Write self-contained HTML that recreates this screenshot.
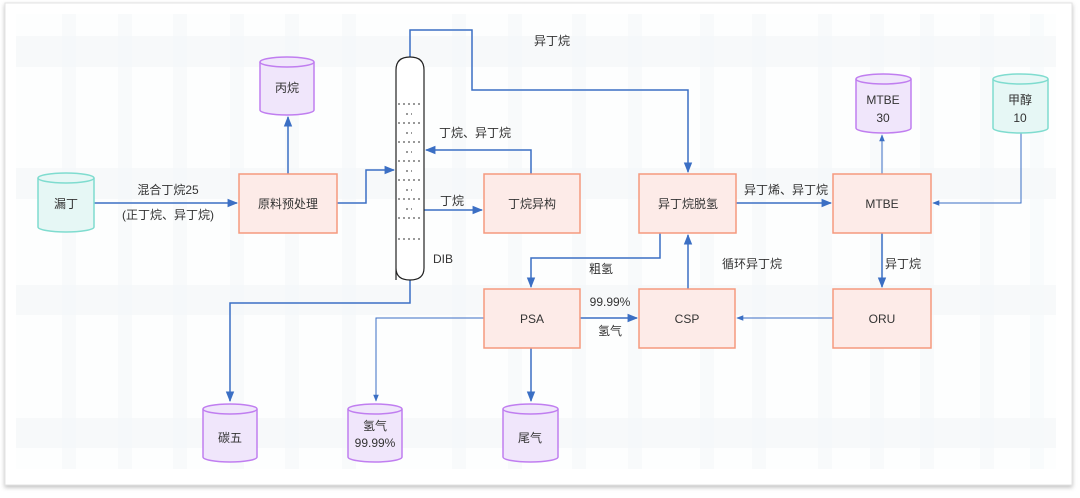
<!DOCTYPE html>
<html><head><meta charset="utf-8"><style>
body{margin:0;width:1080px;height:493px;background:#fff;overflow:hidden;font-family:"Liberation Sans","Noto Sans CJK SC",sans-serif}
</style></head><body>
<svg width="1080" height="493" viewBox="0 0 1080 493" xmlns="http://www.w3.org/2000/svg" font-family="Liberation Sans, Noto Sans CJK SC, sans-serif" font-size="12" fill="#333">
<defs>
<marker id="a" viewBox="0 0 10 10" refX="9" refY="5" markerWidth="7" markerHeight="7" orient="auto"><path d="M0,1 L10,5 L0,9 Z" fill="#3b6fc4"/></marker>
<filter id="sh" x="-5%" y="-5%" width="110%" height="115%"><feDropShadow dx="0" dy="2" stdDeviation="2" flood-color="#000" flood-opacity="0.25"/></filter>
</defs>
<rect x="5" y="3" width="1067" height="482" fill="#fff" stroke="#e3e3e3" filter="url(#sh)"/>
<g fill="#f7f9fa">
<rect x="16" y="14" width="1040" height="455" fill="#fdfefe"/>
<rect x="16" y="36" width="1040" height="31"/>
<rect x="16" y="168" width="1040" height="31"/>
<rect x="16" y="285" width="1040" height="30"/>
<rect x="16" y="418" width="1040" height="30"/>
</g>
<g fill="#f5f8fa" opacity="0.6">
<rect x="62" y="14" width="14" height="455"/><rect x="118" y="14" width="14" height="455"/><rect x="173" y="14" width="14" height="455"/><rect x="230" y="14" width="14" height="455"/><rect x="285" y="14" width="14" height="455"/><rect x="342" y="14" width="14" height="455"/><rect x="452" y="14" width="14" height="455"/><rect x="508" y="14" width="14" height="455"/><rect x="572" y="14" width="14" height="455"/><rect x="628" y="14" width="14" height="455"/><rect x="700" y="14" width="14" height="455"/><rect x="752" y="14" width="14" height="455"/><rect x="818" y="14" width="14" height="455"/><rect x="870" y="14" width="14" height="455"/><rect x="920" y="14" width="14" height="455"/><rect x="980" y="14" width="14" height="455"/><rect x="1030" y="14" width="14" height="455"/>
</g>

<g stroke="#3b6fc4" stroke-width="1.5" fill="none">
<path d="M94,203 H237" marker-end="url(#a)"/>
<path d="M288,174 V117" marker-end="url(#a)"/>
<path d="M337,203 H366 V170 H394" marker-end="url(#a)"/>
<path d="M410,57 V30 H472 V90 H688 V172" marker-end="url(#a)"/>
<path d="M531,174 V150 H426" marker-end="url(#a)"/>
<path d="M424,210 H482" marker-end="url(#a)"/>
<path d="M736,203 H831" marker-end="url(#a)"/>
<path d="M1021,133 V203 H933" marker-end="url(#a)" stroke-width="1"/>
<path d="M882,174 V135" marker-end="url(#a)" stroke-width="1"/>
<path d="M882,233 V287" marker-end="url(#a)"/>
<path d="M833,318 H737" marker-end="url(#a)" stroke-width="1"/>
<path d="M688,289 V235" marker-end="url(#a)"/>
<path d="M660,233 V258 H531 V287" marker-end="url(#a)"/>
<path d="M580,318 H637" marker-end="url(#a)"/>
<path d="M484,318 H376 V401" marker-end="url(#a)" stroke-width="1"/>
<path d="M531,348 V401" marker-end="url(#a)"/>
<path d="M410,280 V303 H230 V401" marker-end="url(#a)"/>
</g>

<path d="M396,280 V70 Q396,57 410,57 Q424,57 424,70 V268 Q424,280 410,280 Q396,280 396,268 Z" fill="#fff" stroke="#222" stroke-width="1.2"/>
<g stroke="#333" stroke-width="1" stroke-dasharray="2,3">
<line x1="398" y1="104" x2="422" y2="104"/><line x1="398" y1="123" x2="422" y2="123"/><line x1="398" y1="142" x2="422" y2="142"/><line x1="398" y1="161" x2="422" y2="161"/><line x1="398" y1="180" x2="422" y2="180"/><line x1="398" y1="199" x2="422" y2="199"/><line x1="398" y1="218" x2="422" y2="218"/><line x1="398" y1="239" x2="422" y2="239"/>
<line x1="406" y1="114" x2="412" y2="114"/><line x1="406" y1="133" x2="412" y2="133"/><line x1="406" y1="152" x2="412" y2="152"/><line x1="406" y1="171" x2="412" y2="171"/><line x1="406" y1="190" x2="412" y2="190"/><line x1="406" y1="209" x2="412" y2="209"/>
</g>

<g fill="#fdebe8" stroke="#f5997e" stroke-width="1.5">
<rect x="239" y="174" width="98" height="59"/>
<rect x="484" y="174" width="96" height="59"/>
<rect x="639" y="174" width="97" height="59"/>
<rect x="833" y="174" width="98" height="59"/>
<rect x="484" y="289" width="96" height="59"/>
<rect x="639" y="289" width="96" height="59"/>
<rect x="833" y="289" width="98" height="59"/>
</g>

<g stroke-width="1.5">
<g fill="#e6f7f5" stroke="#7fdccf">
<path d="M38,178 V227 A28,5 0 0 0 94,227 V178"/><ellipse cx="66" cy="178" rx="28" ry="5"/>
<path d="M993,79 V128 A27.5,5 0 0 0 1048,128 V79"/><ellipse cx="1020.5" cy="79" rx="27.5" ry="5"/>
</g>
<g fill="#f0e6fb" stroke="#c07ef0">
<path d="M260,62 V110 A27,5 0 0 0 314,110 V62"/><ellipse cx="287" cy="62" rx="27" ry="5"/>
<path d="M856,79 V128 A27.5,5 0 0 0 911,128 V79"/><ellipse cx="883.5" cy="79" rx="27.5" ry="5"/>
<path d="M203,409 V457 A27,5 0 0 0 257,457 V409"/><ellipse cx="230" cy="409" rx="27" ry="5"/>
<path d="M348,409 V457 A27,5 0 0 0 402,457 V409"/><ellipse cx="375" cy="409" rx="27" ry="5"/>
<path d="M503,409 V457 A27.5,5 0 0 0 558,457 V409"/><ellipse cx="530.5" cy="409" rx="27.5" ry="5"/>
</g>
</g>

<g text-anchor="middle">
<text x="66" y="208">漏丁</text>
<text x="287" y="92">丙烷</text>
<text x="288" y="208">原料预处理</text>
<text x="532" y="208">丁烷异构</text>
<text x="688" y="208">异丁烷脱氢</text>
<text x="882" y="208">MTBE</text>
<text x="883" y="104">MTBE</text><text x="883" y="122">30</text>
<text x="1020" y="104">甲醇</text><text x="1020" y="122">10</text>
<text x="532" y="323">PSA</text>
<text x="687" y="323">CSP</text>
<text x="882" y="323">ORU</text>
<text x="230" y="442">碳五</text>
<text x="375" y="430">氢气</text><text x="375" y="447">99.99%</text>
<text x="530" y="442">尾气</text>
<text x="168" y="194">混合丁烷25</text>
<text x="168" y="219">(正丁烷、异丁烷)</text>
<text x="552" y="45">异丁烷</text>
<text x="475" y="137">丁烷、异丁烷</text>
<text x="452" y="205">丁烷</text>
<text x="786" y="194">异丁烯、异丁烷</text>
<text x="443" y="263">DIB</text>
<text x="601" y="273">粗氢</text>
<text x="752" y="268">循环异丁烷</text>
<text x="903" y="268">异丁烷</text>
<text x="610" y="306">99.99%</text>
<text x="610" y="335">氢气</text>
</g>
</svg>
</body></html>
